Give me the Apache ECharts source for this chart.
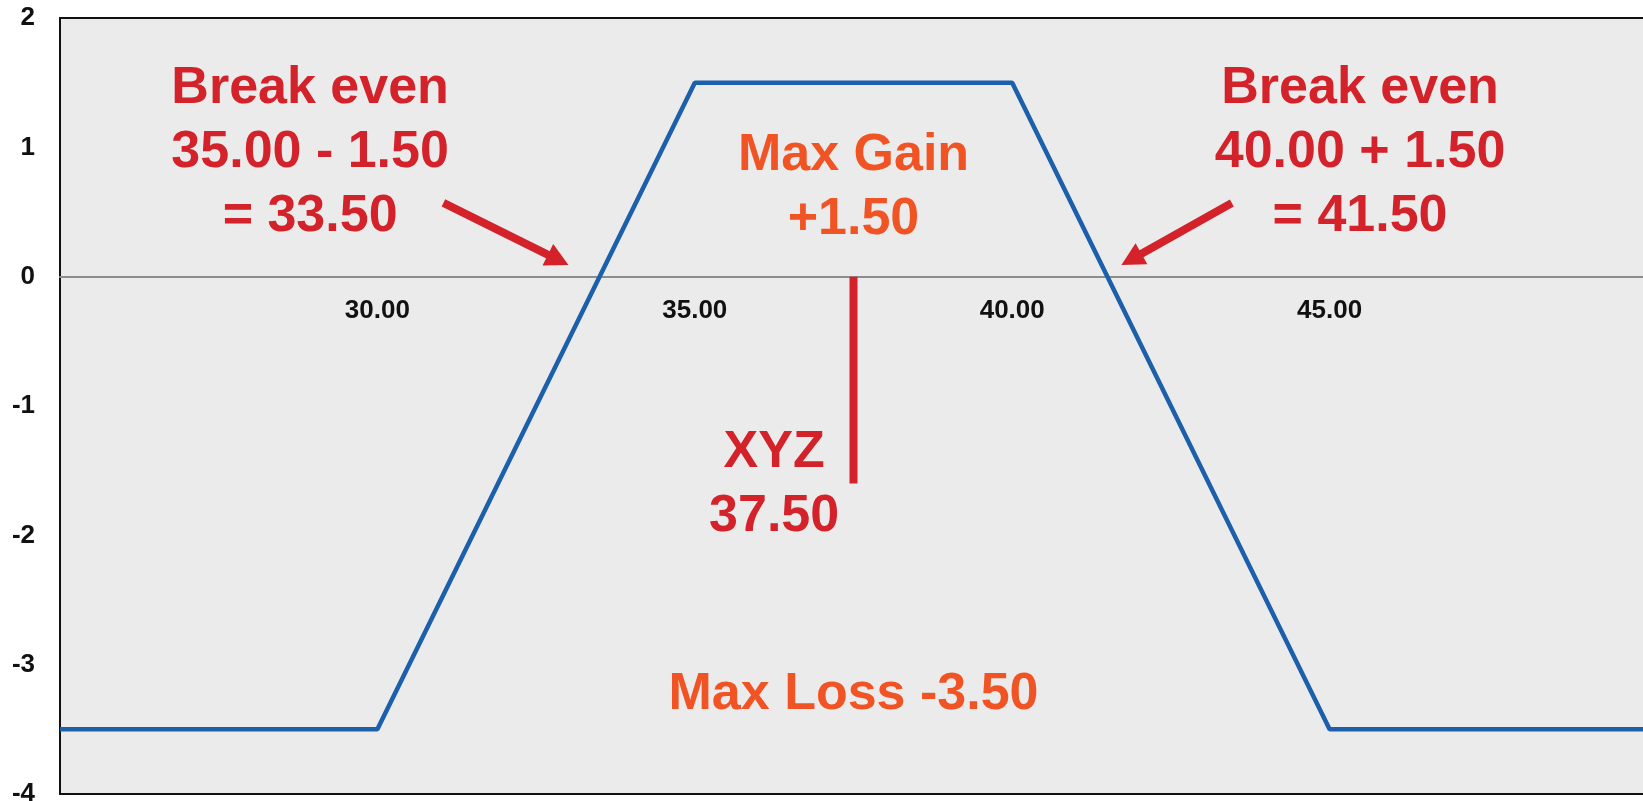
<!DOCTYPE html>
<html>
<head>
<meta charset="utf-8">
<title>Payoff diagram</title>
<script src="https://cdn.jsdelivr.net/npm/echarts@6/dist/echarts.min.js"></script>
<style>
  html, body { margin: 0; padding: 0; background: #ffffff; }
  #chart { width: 1643px; height: 801px; }
</style>
</head>
<body>
<div id="chart"></div>
<script>
// Payoff at expiry vs. underlying price
const priceX = [25, 30, 35, 40, 45, 50];
const payoff = [-3.5, -3.5, 1.5, 1.5, -3.5, -3.5];

// Current price of XYZ and the depth of its marker below zero
const xyzPrice = 37.5;
const xyzMarkerDepth = -1.6;

// Axis ranges and tick steps
const xRange = [25, 50];
const xStep = 5;
const yRange = [-4, 2];
const yStep = 1;

// Annotation texts
const noteTexts = [
  'Break even\n35.00 - 1.50\n= 33.50',
  'Max Gain\n+1.50',
  'Break even\n40.00 + 1.50\n= 41.50',
  'XYZ\n37.50',
  'Max Loss -3.50'
];

// Arrows pointing at the break-even crossings: [fromX, fromY, toX, toY]
const arrows = [
  [31.04, 0.57, 33.01, 0.09],
  [43.46, 0.57, 41.72, 0.09]
];

const RED = '#d3222a';
const ORANGE = '#f15424';
const BLUE = '#1c5fab';
const FONT = 'Liberation Sans, Arial, Helvetica, sans-serif';

// Where each note block is centred (data units) and its colour
const noteLayout = [
  { at: [28.94, 0.96], color: RED },
  { at: [37.5, 0.69], color: ORANGE },
  { at: [45.48, 0.96], color: RED },
  { at: [36.25, -1.61], color: RED },
  { at: [37.5, -3.23], color: ORANGE }
];

const GRID_HEIGHT = 776;
// The price axis sits on the zero line: shift it up from the bottom edge
const zeroOffset = -GRID_HEIGHT * (0 - yRange[0]) / (yRange[1] - yRange[0]);

const chart = echarts.init(document.getElementById('chart'), null, { renderer: 'canvas' });

const option = {
  animation: false,
  backgroundColor: '#ffffff',
  grid: {
    show: true,
    left: 60,
    top: 18,
    width: 1587,
    height: GRID_HEIGHT,
    outerBoundsMode: 'none',
    containLabel: false,
    backgroundColor: '#ebebeb',
    borderColor: '#111111',
    borderWidth: 2
  },
  xAxis: {
    type: 'value',
    position: 'bottom',
    offset: zeroOffset,
    min: xRange[0],
    max: xRange[1],
    interval: xStep,
    axisLine: { show: true, onZero: false, lineStyle: { color: '#8c8c8c', width: 2 } },
    axisTick: { show: false },
    splitLine: { show: false },
    axisLabel: {
      show: true,
      margin: 21,
      showMinLabel: false,
      showMaxLabel: false,
      color: '#111111',
      fontFamily: FONT,
      fontWeight: 'bold',
      fontSize: 26,
      formatter: v => v.toFixed(2)
    }
  },
  yAxis: {
    type: 'value',
    min: yRange[0],
    max: yRange[1],
    interval: yStep,
    axisLine: { show: false },
    axisTick: { show: false },
    splitLine: { show: false },
    axisLabel: {
      margin: 25,
      color: '#111111',
      fontFamily: FONT,
      fontWeight: 'bold',
      fontSize: 26
    }
  },
  series: [
    {
      name: 'Payoff',
      type: 'line',
      data: priceX.map((x, i) => [x, payoff[i]]),
      showSymbol: false,
      symbol: 'none',
      lineStyle: { color: BLUE, width: 4.5 },
      z: 3
    },
    {
      name: 'XYZ',
      type: 'line',
      data: [[xyzPrice, 0], [xyzPrice, xyzMarkerDepth]],
      showSymbol: false,
      symbol: 'none',
      lineStyle: { color: RED, width: 8, cap: 'butt' },
      z: 4
    },
    {
      name: 'Arrows',
      type: 'custom',
      data: arrows,
      z: 5,
      renderItem: function (params, api) {
        const p1 = api.coord([api.value(0), api.value(1)]);
        const p2 = api.coord([api.value(2), api.value(3)]);
        const dx = p2[0] - p1[0];
        const dy = p2[1] - p1[1];
        const len = Math.sqrt(dx * dx + dy * dy);
        const ux = dx / len, uy = dy / len;
        const nx = -uy, ny = ux;
        const headLen = 23, headHalf = 12;
        const bx = p2[0] - ux * headLen;
        const by = p2[1] - uy * headLen;
        return {
          type: 'group',
          children: [
            {
              type: 'line',
              shape: { x1: p1[0], y1: p1[1], x2: bx + ux * 2, y2: by + uy * 2 },
              style: { stroke: RED, lineWidth: 8, lineCap: 'butt' }
            },
            {
              type: 'polygon',
              shape: {
                points: [
                  [p2[0], p2[1]],
                  [bx + nx * headHalf, by + ny * headHalf],
                  [bx - nx * headHalf, by - ny * headHalf]
                ]
              },
              style: { fill: RED }
            }
          ]
        };
      }
    },
    {
      name: 'Notes',
      type: 'custom',
      data: noteLayout.map((n, i) => [n.at[0], n.at[1], i]),
      z: 6,
      renderItem: function (params, api) {
        const idx = api.value(2);
        const p = api.coord([api.value(0), api.value(1)]);
        return {
          type: 'text',
          x: p[0],
          y: p[1],
          style: {
            text: noteTexts[idx],
            fill: noteLayout[idx].color,
            font: 'bold 52px ' + FONT,
            align: 'center',
            verticalAlign: 'middle',
            lineHeight: 64
          }
        };
      }
    }
  ]
};

chart.setOption(option);
</script>
</body>
</html>
